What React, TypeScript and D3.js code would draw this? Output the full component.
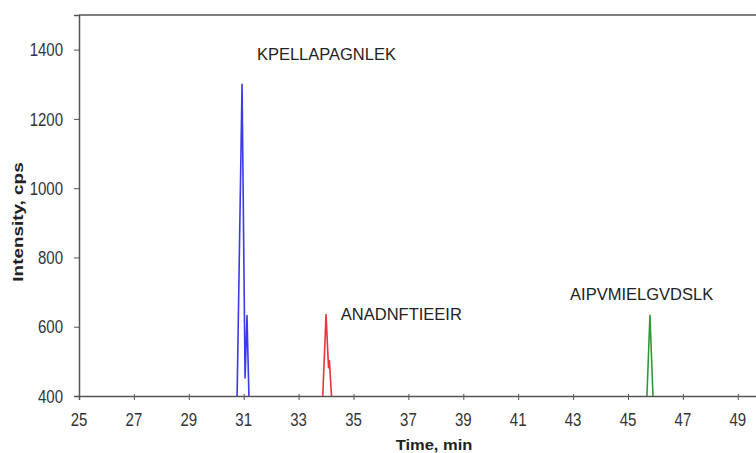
import React, { useEffect, useRef } from "react";
import * as d3 from "d3";

// Peak traces (time in min, intensity in cps)
const kpellaTime = [30.76, 30.94, 31.05, 31.12, 31.19];
const kpellaCps = [400, 1300, 452, 632, 400];

const anadnTime = [33.88, 34.0, 34.09, 34.12, 34.2];
const anadnCps = [400, 635, 482, 502, 400];

const aipvmTime = [45.69, 45.8, 45.91];
const aipvmCps = [400, 633, 400];

const peptideNames = ["KPELLAPAGNLEK", "ANADNFTIEEIR", "AIPVMIELGVDSLK"];
const peptideColors = ["#3a3ae8", "#e8333a", "#2f9a35"];
// where each peptide name sits (time, intensity of its baseline)
const labelTime = [31.48, 34.54, 42.89];
const labelCps = [1370, 618, 676];

const xTicks = [25, 27, 29, 31, 33, 35, 37, 39, 41, 43, 45, 47, 49];
const yTicks = [400, 600, 800, 1000, 1200, 1400];

const FONT = "Arial, 'Liberation Sans', sans-serif";

const App = () => {
  const svgRef = useRef<SVGSVGElement>(null);

  useEffect(() => {
    const width = 756;
    const height = 453;
    const margin = { top: 15, left: 79, bottom: 396 };

    const svg = d3.select(svgRef.current).attr("width", width).attr("height", height);
    svg.selectAll("*").remove();

    const x = d3.scaleLinear().domain([25, 50]).range([margin.left, margin.left + 25 * 27.45]);
    const y = d3.scaleLinear().domain([400, 1500]).range([margin.bottom, margin.top]);

    svg
      .append("defs")
      .append("clipPath")
      .attr("id", "plot-clip")
      .append("rect")
      .attr("x", margin.left)
      .attr("y", margin.top)
      .attr("width", width - margin.left)
      .attr("height", margin.bottom - margin.top);

    // top side of the frame
    svg
      .append("line")
      .attr("x1", margin.left)
      .attr("x2", width)
      .attr("y1", margin.top)
      .attr("y2", margin.top)
      .attr("stroke", "#555")
      .attr("stroke-width", 1.5);

    const series = [
      { t: kpellaTime, v: kpellaCps },
      { t: anadnTime, v: anadnCps },
      { t: aipvmTime, v: aipvmCps },
    ];

    const plot = svg.append("g").attr("clip-path", "url(#plot-clip)");
    series.forEach((s, i) => {
      const pts: [number, number][] = s.t.map((t, j) => [x(t), y(s.v[j])]);
      plot
        .append("path")
        .attr("d", d3.line()(pts))
        .attr("fill", "none")
        .attr("stroke", peptideColors[i])
        .attr("stroke-width", 1.6)
        .attr("stroke-linejoin", "round");
    });

    // y axis (labels drawn below, slightly stretched like the source)
    const yAxis = svg
      .append("g")
      .attr("transform", `translate(${margin.left},0)`)
      .call(d3.axisLeft(y).tickValues(yTicks).tickSize(5).tickFormat(() => ""));
    yAxis.select(".domain").attr("stroke", "#555").attr("stroke-width", 1.5);
    yAxis.selectAll(".tick line").attr("stroke", "#555");

    svg
      .append("g")
      .selectAll("text")
      .data(yTicks)
      .enter()
      .append("text")
      .attr("transform", (d) => `translate(63,${y(d)}) scale(1,1.22)`)
      .attr("y", "0.36em")
      .attr("text-anchor", "end")
      .attr("font-family", FONT)
      .attr("font-size", 15)
      .attr("fill", "#333")
      .text((d) => d);

    // x axis
    const xAxis = svg
      .append("g")
      .attr("transform", `translate(0,${margin.bottom})`)
      .call(d3.axisBottom(x).tickValues(xTicks).tickSize(4).tickFormat(() => ""));
    xAxis.select(".domain").attr("stroke", "#555").attr("stroke-width", 1.5);
    xAxis.selectAll(".tick line").attr("stroke", "#555").attr("y1", -2);

    svg
      .append("g")
      .selectAll("text")
      .data(xTicks)
      .enter()
      .append("text")
      .attr("transform", (d) => `translate(${x(d)},413) scale(1,1.22)`)
      .attr("y", "0.716em")
      .attr("text-anchor", "middle")
      .attr("font-family", FONT)
      .attr("font-size", 15)
      .attr("fill", "#333")
      .text((d) => d);

    // peak labels
    peptideNames.forEach((name, i) => {
      svg
        .append("text")
        .attr("x", x(labelTime[i]))
        .attr("y", y(labelCps[i]))
        .attr("font-family", FONT)
        .attr("font-size", 16.5)
        .attr("fill", "#222")
        .text(name);
    });

    // axis titles
    svg
      .append("text")
      .attr("transform", "translate(434,450) scale(1.1,1)")
      .attr("text-anchor", "middle")
      .attr("font-family", FONT)
      .attr("font-size", 15)
      .attr("font-weight", "bold")
      .attr("fill", "#222")
      .text("Time, min");

    svg
      .append("text")
      .attr("transform", "translate(23,222) rotate(-90) scale(1.35,1)")
      .attr("text-anchor", "middle")
      .attr("font-family", FONT)
      .attr("font-size", 14)
      .attr("font-weight", "bold")
      .attr("fill", "#222")
      .text("Intensity, cps");
  }, []);

  return (
    <div>
      <svg ref={svgRef} style={{ position: "absolute", left: 0, top: 0, background: "#fff" }}></svg>
    </div>
  );
};

export default App;
